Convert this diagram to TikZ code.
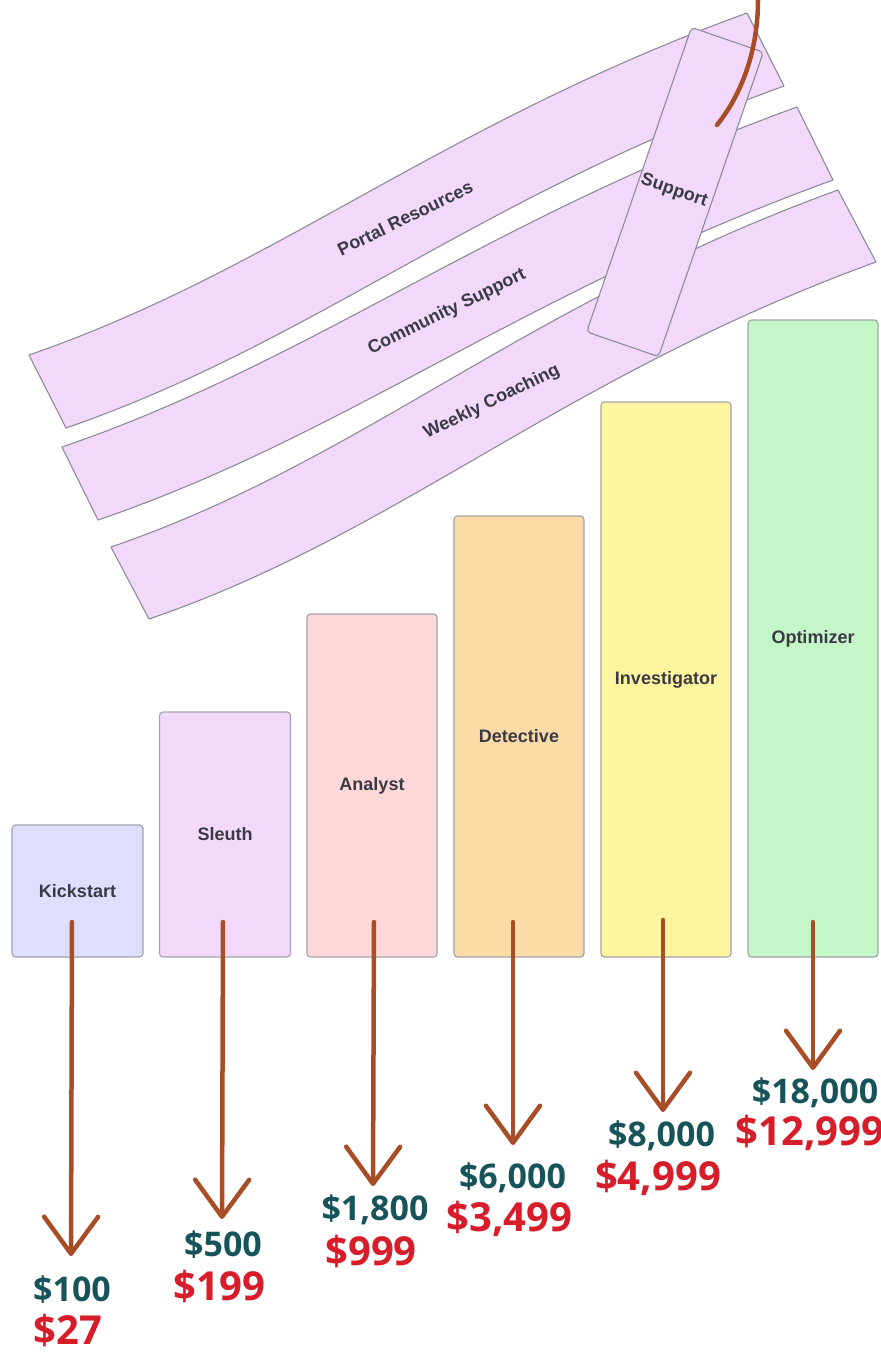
\documentclass[tikz,border=0pt]{standalone}
\usepackage{fontspec}
\setmainfont{Liberation Sans}
\newfontfamily\pricefont{Open Sans}
\usetikzlibrary{arrows.meta,calc}
\definecolor{bandfill}{HTML}{F2D9FC}
\definecolor{bandline}{HTML}{8C8C96}
\definecolor{labelgray}{HTML}{3A3A44}
\definecolor{kickfill}{HTML}{DEDEFF}
\definecolor{sleuthfill}{HTML}{F2D9FC}
\definecolor{analystfill}{HTML}{FFD7D8}
\definecolor{detfill}{HTML}{FDDBA6}
\definecolor{invfill}{HTML}{FFF59F}
\definecolor{optfill}{HTML}{C3F7C8}
\definecolor{arrowbrown}{HTML}{A84E26}
\definecolor{oldprice}{HTML}{17545A}
\definecolor{newprice}{HTML}{D71D2A}
\begin{document}
\begin{tikzpicture}[x=1pt,y=-1pt,
  band/.style={fill=bandfill,draw=bandline,line width=1.1pt,line join=round},
  bandlabel/.style={text=labelgray,font=\bfseries\fontsize{18}{21}\selectfont,inner sep=0pt},
  bar/.style={draw=bandline!80,line width=1.2pt,rounded corners=3.5pt,inner sep=0pt,
    text=labelgray,font=\bfseries\fontsize{18}{21}\selectfont},
  pricearrow/.style={draw=arrowbrown,line width=4.5pt,line cap=round,line join=round,
    -{Straight Barb[length=37pt,width=54pt,line cap=round,line join=round]}},
  oldp/.style={text=oldprice,font=\pricefont\bfseries\fontsize{34}{40}\selectfont,inner sep=0pt},
  newp/.style={text=newprice,font=\pricefont\bfseries\fontsize{40}{46}\selectfont,inner sep=0pt}
]
\useasboundingbox (0,0) rectangle (881,1353);
\fill[white] (0,0) rectangle (881,1353);

% ribbons
\path[band] (29,355) .. controls (275,270) and (437,126) .. (747,13) -- (784,86)
  .. controls (474,199) and (312,343) .. (66,428) -- cycle;
\path[band] (62,447) .. controls (313,361) and (481,222) .. (797,107) -- (833,180)
  .. controls (517,295) and (349,434) .. (98,520) -- cycle;
\path[band] (111,547) .. controls (362,461) and (522,305) .. (838,190) -- (876,262)
  .. controls (560,377) and (400,533) .. (149,619) -- cycle;
\node[bandlabel,rotate=26] (portal) at (405,218) {Portal Resources};
\node[bandlabel,rotate=26] (community) at (447,312) {Community Support};
\node[bandlabel,rotate=26] (weekly) at (492,402) {Weekly Coaching};

% support
\node[band,rounded corners=4pt,rotate=-19,minimum width=76pt,minimum height=322pt,
  inner sep=0pt] (support) at (675,192) {};
\node[bandlabel,rotate=-19] (supportlabel) at (674,191) {Support};

% curve from top
\coordinate (ctop) at (758,0);
\coordinate (cend) at (717,125);
\draw[arrowbrown,line width=4.5pt,line cap=round] (ctop) .. controls (758,45) and (745,90) .. (cend);

% bars
\node[bar,fill=kickfill,minimum width=131pt,minimum height=132pt] (kick) at (77.5,891) {Kickstart};
\node[bar,fill=sleuthfill,minimum width=131pt,minimum height=245pt] (sleuth) at (225,834.5) {Sleuth};
\node[bar,fill=analystfill,minimum width=130pt,minimum height=343pt] (analyst) at (372,785.5) {Analyst};
\node[bar,fill=detfill,minimum width=130pt,minimum height=441pt] (detective) at (519,736.5) {Detective};
\node[bar,fill=invfill,minimum width=130pt,minimum height=555pt] (investigator) at (666,679.5) {Investigator};
\node[bar,fill=optfill,minimum width=130pt,minimum height=637pt] (optimizer) at (813,638.5) {Optimizer};

% arrows
\coordinate (s1) at (72,922);  \coordinate (t1) at (71,1256);
\coordinate (s2) at (223,922); \coordinate (t2) at (222,1219);
\coordinate (s3) at (374,922); \coordinate (t3) at (373,1186);
\coordinate (s4) at (513,922); \coordinate (t4) at (513,1145);
\coordinate (s5) at (663,920); \coordinate (t5) at (663,1112);
\coordinate (s6) at (813,922); \coordinate (t6) at (813,1070);
\draw[pricearrow] (s1) -- (t1);
\draw[pricearrow] (s2) -- (t2);
\draw[pricearrow] (s3) -- (t3);
\draw[pricearrow] (s4) -- (t4);
\draw[pricearrow] (s5) -- (t5);
\draw[pricearrow] (s6) -- (t6);

% prices
\node[oldp] (o1) at (72,1290) {\$100};
\node[newp] (n1) at (68,1330) {\$27};
\node[oldp] (o2) at (223,1245) {\$500};
\node[newp] (n2) at (219.5,1286) {\$199};
\node[oldp] (o3) at (375,1210) {\$1,800};
\node[newp] (n3) at (371,1251) {\$999};
\node[oldp] (o4) at (512.5,1178) {\$6,000};
\node[newp] (n4) at (509.5,1219) {\$3,499};
\node[oldp] (o5) at (661.5,1136) {\$8,000};
\node[newp] (n5) at (658,1178) {\$4,999};
\node[oldp] (o6) at (815,1093) {\$18,000};
\node[newp] (n6) at (810,1133) {\$12,999};
\end{tikzpicture}
\end{document}
